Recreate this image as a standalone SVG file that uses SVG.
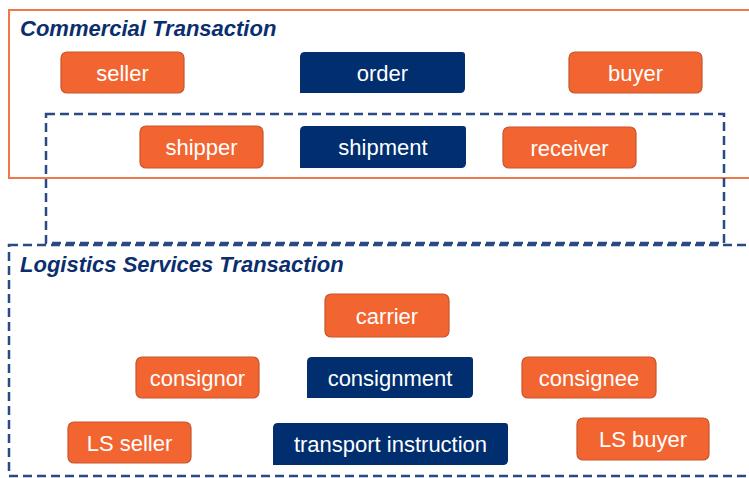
<svg xmlns="http://www.w3.org/2000/svg" width="749" height="478" viewBox="0 0 749 478">
<style>
.org{fill:#F26531;stroke:#C9542A;stroke-width:1.2}
.nav{fill:#002E6E}
.lbl{font-family:"Liberation Sans",Arial,sans-serif;font-size:22px;fill:#FFFFFF;text-anchor:middle}
.ttl{font-family:"Liberation Sans",Arial,sans-serif;font-size:22px;font-weight:bold;font-style:italic;fill:#0B2E6E}
.dash{fill:none;stroke:#2A4A85;stroke-width:2.5;stroke-dasharray:9 5}
</style>
<rect width="749" height="478" fill="#FFFFFF"/>
<g id="commercial-transaction">
<rect x="9" y="10" width="750" height="168" fill="none" stroke="#F07848" stroke-width="2"/>
<text class="ttl" x="20" y="36">Commercial Transaction</text>
</g>
<g id="connectors">
<rect class="dash" x="46" y="114" width="678" height="129"/>
</g>
<g id="logistics-services-transaction">
<rect class="dash" x="9" y="245" width="750" height="231"/>
<text class="ttl" x="20" y="272">Logistics Services Transaction</text>
</g>
<g id="seller"><rect class="org" x="61" y="52" width="123" height="41" rx="6"/><text class="lbl" x="122.5" y="80.5">seller</text></g>
<g id="order"><path class="nav" d="M305,52 H462 Q465,52 465,55 V88 Q465,93 460,93 H300 V57 Q300,52 305,52 Z"/><text class="lbl" x="382.5" y="80.5">order</text></g>
<g id="buyer"><rect class="org" x="569" y="52" width="133" height="41" rx="6"/><text class="lbl" x="635.5" y="80.5">buyer</text></g>
<g id="shipper"><rect class="org" x="140" y="126" width="123" height="42" rx="6"/><text class="lbl" x="201.5" y="155">shipper</text></g>
<g id="shipment"><path class="nav" d="M305,126 H463 Q466,126 466,129 V163 Q466,168 461,168 H300 V131 Q300,126 305,126 Z"/><text class="lbl" x="383" y="155">shipment</text></g>
<g id="receiver"><rect class="org" x="503" y="127" width="133" height="41" rx="6"/><text class="lbl" x="569.5" y="155.5">receiver</text></g>
<g id="carrier"><rect class="org" x="325" y="294" width="124" height="43" rx="6"/><text class="lbl" x="387" y="323.5">carrier</text></g>
<g id="consignor"><rect class="org" x="136" y="357" width="123" height="41" rx="6"/><text class="lbl" x="197.5" y="385.5">consignor</text></g>
<g id="consignment"><path class="nav" d="M312,357 H470 Q473,357 473,360 V393 Q473,398 468,398 H307 V362 Q307,357 312,357 Z"/><text class="lbl" x="390" y="385.5">consignment</text></g>
<g id="consignee"><rect class="org" x="522" y="357" width="134" height="41" rx="6"/><text class="lbl" x="589" y="385.5">consignee</text></g>
<g id="ls-seller"><rect class="org" x="68" y="422" width="123" height="41" rx="6"/><text class="lbl" x="129.5" y="450.5">LS seller</text></g>
<g id="transport-instruction"><path class="nav" d="M278,423 H505 Q508,423 508,426 V460 Q508,465 503,465 H273 V428 Q273,423 278,423 Z"/><text class="lbl" x="390.5" y="452">transport instruction</text></g>
<g id="ls-buyer"><rect class="org" x="577" y="418" width="132" height="42" rx="6"/><text class="lbl" x="643" y="447">LS buyer</text></g>
</svg>
